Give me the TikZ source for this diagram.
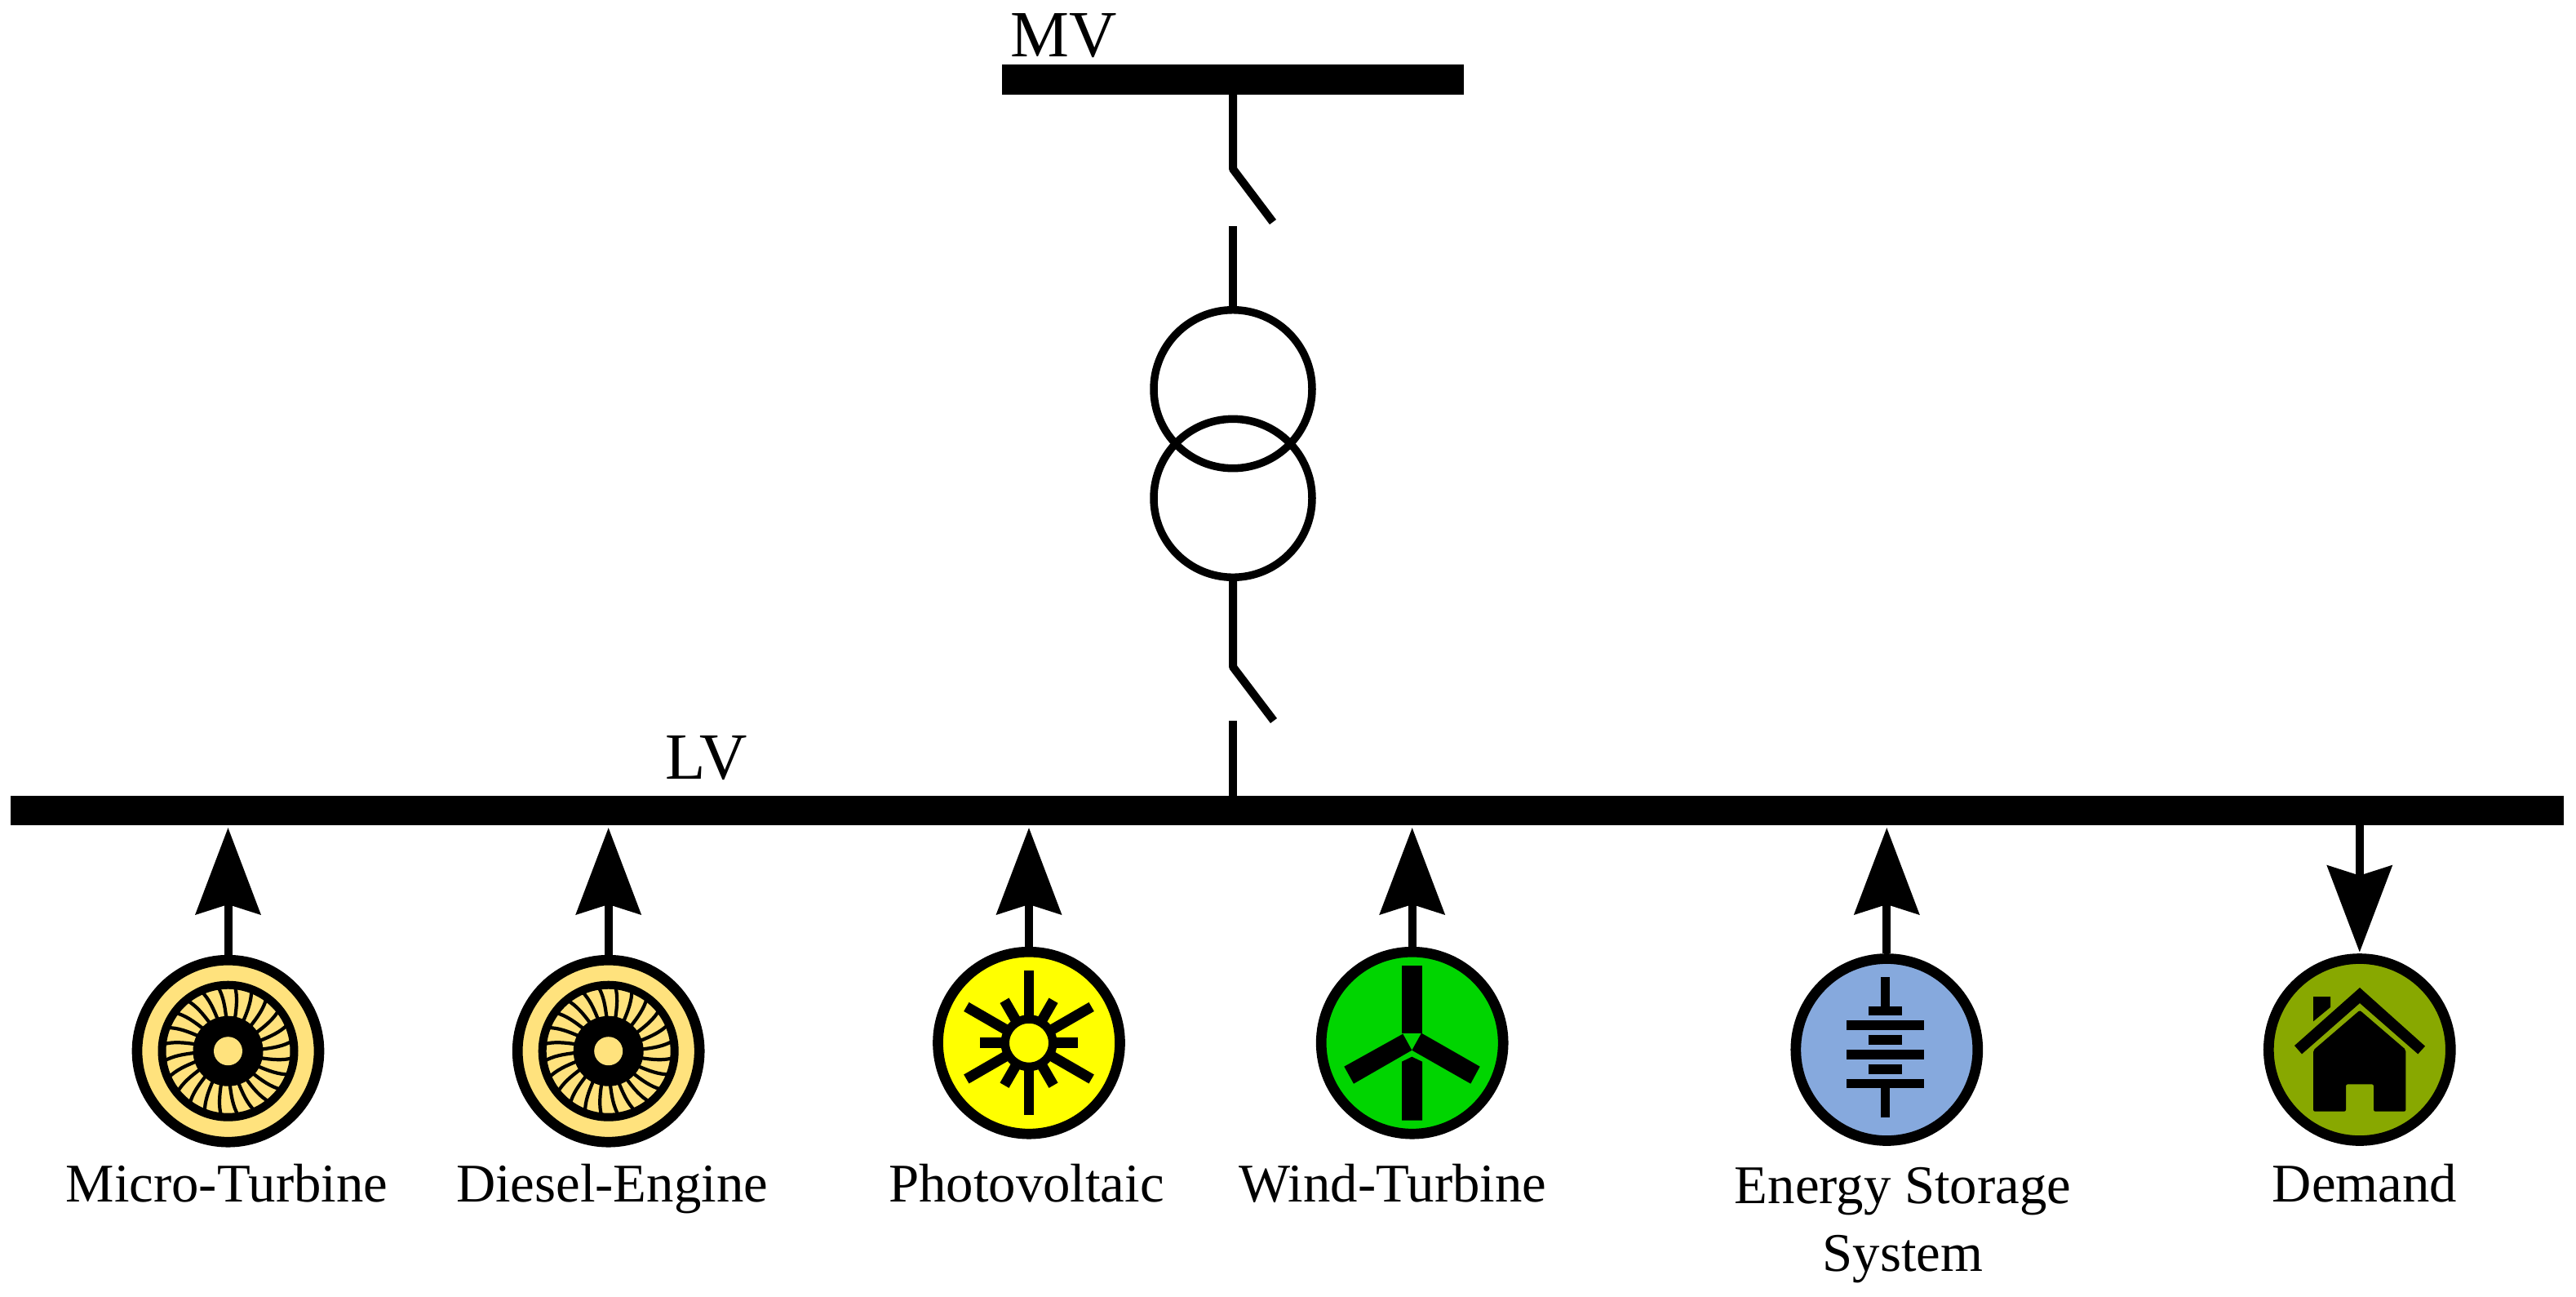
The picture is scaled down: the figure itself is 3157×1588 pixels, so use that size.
\documentclass[tikz,border=0pt]{standalone}
\usepackage{fontspec}
\setmainfont{Liberation Serif}
\usepackage{xcolor}
\usetikzlibrary{calc,arrows.meta}
\definecolor{turbine}{HTML}{FFE27D}
\definecolor{solar}{HTML}{FFFF00}
\definecolor{wind}{HTML}{00D500}
\definecolor{store}{HTML}{86A9DD}
\definecolor{load}{HTML}{88A800}
\tikzset{
  bus/.style={rectangle, fill=black, inner sep=0pt, outer sep=0pt},
  wire/.style={draw=black, line width=1mm, line cap=butt, line join=round},
  flow/.style={draw=black, line width=1mm, -{Stealth[length=10.6mm,width=7.9mm,inset=1.2mm]}},
  coil/.style={circle, draw=black, line width=0.95mm, inner sep=0pt, minimum size=19.4mm, outer sep=0pt},
  unit/.style={circle, draw=black, line width=1.27mm, inner sep=0pt, minimum size=22.3mm, outer sep=0.635mm},
  lab/.style={text=black, font=\fontsize{19}{23.6}\selectfont, inner sep=0pt},
  labb/.style={text=black, font=\fontsize{23}{27}\selectfont, inner sep=0pt},
  ray/.style={draw=black, line width=1.27mm},
  spoke/.style={draw=black, line width=0.42mm},
}
\begin{document}
\begin{tikzpicture}[x=0.1mm,y=-0.1mm]
  \useasboundingbox (0,0) rectangle (3157,1588);
  % buses
  \node[bus,minimum width=56.6mm,minimum height=3.7mm] (mv) at (1511,97.5) {};
  \node[bus,minimum width=312.9mm,minimum height=3.57mm] (lv) at (1577.5,992.85) {};
  \node[labb,anchor=base west] (mvlab) at (1238,69) {MV};
  \node[labb,anchor=base west] (lvlab) at (815,954) {LV};
  % transformer and switches
  \node[coil] (tu) at (1511,476.7) {};
  \node[coil] (tl) at (1511,610.3) {};
  \coordinate (s1) at (1511,207);
  \coordinate (s1b) at (1560,272);
  \coordinate (s1c) at (1511,277);
  \coordinate (s2) at (1511,817);
  \coordinate (s2b) at (1561,883);
  \coordinate (s2c) at (1511,883);
  \draw[wire] (mv.south) -- (s1) -- (s1b);
  \draw[wire] (s1c) -- (tu.north);
  \draw[wire] (tl.south) -- (s2) -- (s2b);
  \draw[wire] (s2c) -- (lv.north -| s2c);
  % units
  \node[unit,fill=turbine] (mt) at (279.5,1287.7) {};
  \node[unit,fill=turbine] (de) at (745.7,1287.7) {};
  \node[unit,fill=solar] (pv) at (1261,1277.7) {};
  \node[unit,fill=wind] (wt) at (1730.7,1277.7) {};
  \node[unit,fill=store] (es) at (2312.3,1286) {};
  \node[unit,fill=load] (dm) at (2891.8,1286) {};
  \foreach \X in {mt,de,pv,wt,es}
    \draw[flow,shorten >=0.33mm] (\X.north) -- (\X.north |- lv.south);
  \draw[flow,shorten >=0.15mm] (dm.north |- lv.south) -- (dm.north);
  % turbine wheels
  \foreach \X in {mt,de} {
    \begin{scope}[shift={(\X)}]
      \draw[black,line width=1mm] (0,0) circle (81);
      \foreach \a in {0,15,...,345}
        \draw[spoke] ({\a-3}:40) .. controls ({\a-4}:55) and ({\a-5}:68) .. ({\a-9}:80);
      \fill[black] (0,0) circle (43);
      \fill[turbine] (0,0) circle (17.5);
    \end{scope}
  }
  % sun
  \begin{scope}[shift={(pv)}]
    \foreach \a in {30,90,150,210,270,330}
      \draw[ray] (\a:30) -- (\a:88.5);
    \foreach \a in {0,60,120,180,240,300}
      \draw[ray] (\a:30) -- (\a:60);
    \draw[black,fill=solar,line width=1.05mm] (0,0) circle (29.2);
  \end{scope}
  % wind blades
  \begin{scope}[shift={(1590,1150)},scale=1/3]
    \fill (384,99) -- (459,99) -- (459,348) -- (384,348) -- cycle;
    \fill (172,470) -- (207,533) -- (421,410) -- (388,350) -- cycle;
    \fill (671,470) -- (637,533) -- (421,410) -- (456,347) -- cycle;
    \fill (384,668) -- (459,668) -- (459,452) -- (421,434) -- (384,452) -- cycle;
  \end{scope}
  % battery
  \begin{scope}[shift={(2170,1150)},scale=1/3]
    \fill (405,141) rectangle (438,250);
    \foreach \y/\h in {250/282,354/389,462/497}
      \fill (360,\y) rectangle (483,\h);
    \foreach \y/\h in {300/335,408/443,516/549}
      \fill (279,\y) rectangle (564,\h);
    \fill (405,549) rectangle (438,657);
  \end{scope}
  % house
  \begin{scope}[shift={(2760,1150)},scale=1/3]
    \fill (396,180) -- (636,395) -- (610,424) -- (396,237) -- (183,424) -- (156,393) -- cycle;
    \fill (225,213) -- (288,213) -- (288,252) -- (225,304) -- cycle;
    \fill[rounded corners=0.6pt] (396,263) -- (565,408) -- (565,635) -- (447,635) -- (447,535) -- (345,535) -- (345,635) -- (225,635) -- (225,410) -- cycle;
  \end{scope}
  % labels
  \node[lab,anchor=base] (mtlab) at (278,1472) {Micro-Turbine};
  \node[lab,anchor=base] (delab) at (750,1472) {Diesel-Engine};
  \node[lab,anchor=base] (pvlab) at (1258,1472) {Photovoltaic};
  \node[lab,anchor=base] (wtlab) at (1707,1472) {Wind-Turbine};
  \node[lab,anchor=base] (eslab) at (2332,1474) {Energy Storage};
  \node[lab,anchor=base] (eslabb) at (2332,1557) {System};
  \node[lab,anchor=base] (dmlab) at (2898,1472) {Demand};
\end{tikzpicture}
\end{document}
